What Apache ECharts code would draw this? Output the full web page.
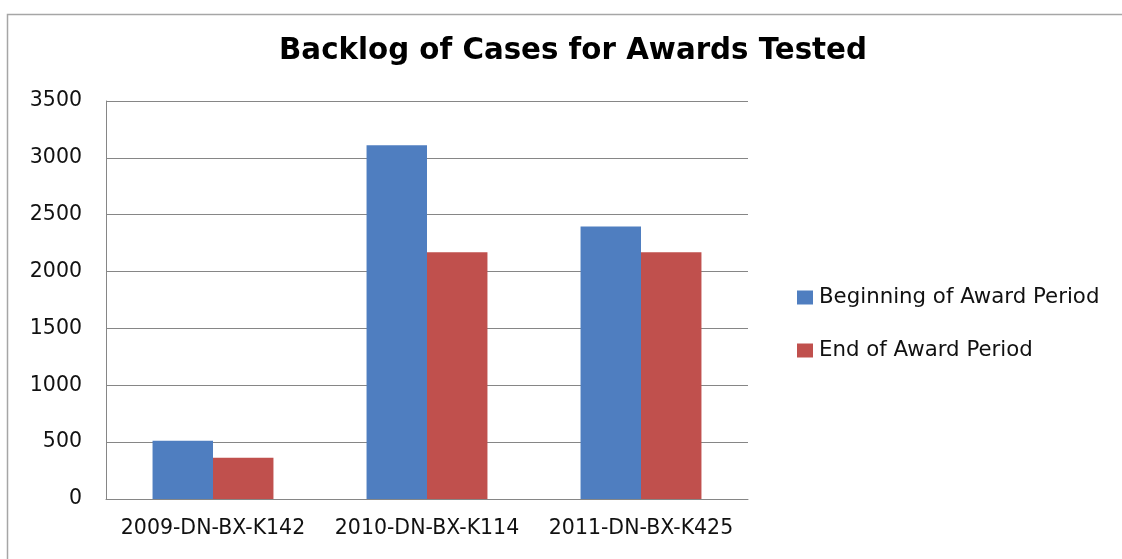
<!DOCTYPE html>
<html><head><meta charset="utf-8">
<script src="https://cdn.jsdelivr.net/npm/echarts@6/dist/echarts.min.js"></script>
<style>html,body{margin:0;padding:0;background:#fff}#c{width:1122px;height:559px}</style>
</head><body><div id="c"></div>
<script>
const categories = ['2009-DN-BX-K142', '2010-DN-BX-K114', '2011-DN-BX-K425'];
const yTicks = [0, 500, 1000, 1500, 2000, 2500, 3000, 3500];
const beginning = [512, 3110, 2397];
const ending = [363, 2170, 2170];
const seriesNames = ['Beginning of Award Period', 'End of Award Period'];
const chart = echarts.init(document.getElementById('c'));
const font = '"DejaVu Sans", sans-serif';
chart.setOption({
  animation: false,
  backgroundColor: '#fff',
  title: {
    text: 'Backlog of Cases for Awards Tested',
    left: 568, top: 32, textAlign: 'center',
    textStyle: {fontFamily: '"DejaVu Sans", sans-serif', fontWeight: 'bold', fontSize: 29.3, color: '#000'}
  },
  graphic: [{type: 'rect', left: 5, top: 12, shape: {width: 1300, height: 700}, style: {fill: 'none', stroke: '#a6a6a6', lineWidth: 1.5}, silent: true}],
  legend: {
    orient: 'vertical', left: 792, top: 282, itemGap: 32, itemWidth: 16, itemHeight: 14,
    icon: 'rect',
    textStyle: {fontFamily: font, fontSize: 21.3, color: '#111', padding: [0,0,0,1]},
    data: seriesNames
  },
  grid: {left: 106, right: 374, top: 101, bottom: 60, containLabel: false},
  xAxis: {
    type: 'category', data: categories,
    axisLine: {lineStyle: {color: '#868686', width: 1}},
    axisTick: {show: false},
    axisLabel: {interval: 0, hideOverlap: false, fontFamily: font, fontSize: 20.5, color: '#111', margin: 19}
  },
  yAxis: {
    type: 'value', min: yTicks[0], max: yTicks[yTicks.length - 1], interval: yTicks[1] - yTicks[0],
    axisLine: {show: true, lineStyle: {color: '#868686'}},
    axisTick: {show: false},
    splitLine: {lineStyle: {color: '#868686', width: 1}},
    axisLabel: {fontFamily: font, fontSize: 20.5, color: '#111', margin: 24, formatter: v => String(v)}
  },
  series: [
    {name: seriesNames[0], type: 'bar', data: beginning, itemStyle: {color: '#4f7ec0'}, barGap: '0%', barCategoryGap: '43.5%'},
    {name: seriesNames[1], type: 'bar', data: ending, itemStyle: {color: '#c0504d'}, barGap: '0%', barCategoryGap: '43.5%'}
  ]
});
</script></body></html>
